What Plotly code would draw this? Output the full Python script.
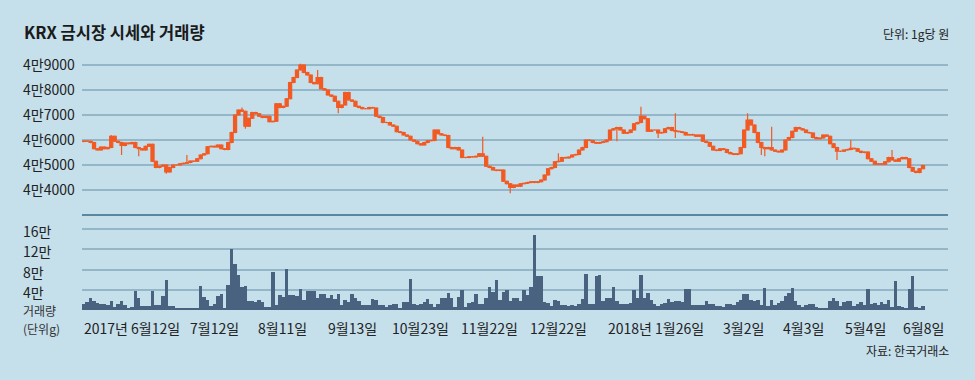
import plotly.graph_objects as go

# ---------------- data ----------------
open_ = [
    45940, 45960, 45950, 45900, 45650, 45600, 45720, 45650, 45700, 46150,
    45950, 45900, 45780, 45880, 45850, 45900, 45700, 45650, 45600, 45750,
    45830, 45150, 44900, 44950, 45000, 44720, 44900, 45000, 45000, 45050,
    45070, 45100, 45160, 45150, 45250, 45400, 45450, 45730, 45750, 45720,
    45800, 45650, 45620, 45900, 46300, 47000, 47200, 47150, 46550, 46870,
    47100, 47050, 46950, 46900, 46950, 46730, 46750, 47450, 47300, 47350,
    47650, 48300, 48500, 48800, 49000, 48700, 48600, 48300, 48250, 48500,
    48050, 48000, 47800, 47750, 47550, 47300, 47400, 47900, 47600, 47550,
    47350, 47300, 47250, 47250, 47300, 47280, 46950, 46900, 46700, 46700,
    46600, 46550, 46330, 46300, 46200, 46150, 46000, 45950, 45850, 45800,
    45900, 45970, 45980, 46400, 46250, 46200, 46180, 45700, 45650, 45700,
    45600, 45300, 45300, 45330, 45320, 45350, 45450, 45350, 44950, 44900,
    44800, 44780, 44800, 44350, 44250, 44100, 44200, 44150, 44250, 44270,
    44300, 44330, 44300, 44330, 44400, 44600, 44850, 44900, 45130, 45150,
    45300, 45280, 45320, 45400, 45420, 45600, 45700, 46000, 45980, 45900,
    45870, 45900, 45930, 46000, 46400, 46450, 46500, 46400, 46270, 46300,
    46400, 46650, 46700, 46950, 46850, 46350, 46400, 46400, 46280, 46300,
    46450, 46500, 46380, 46350, 46330, 46300, 46200, 46220, 46200, 46150,
    46200, 45950, 45900, 45750, 45600, 45580, 45650, 45620, 45500, 45450,
    45420, 45450, 45700, 46400, 46800, 46600, 46300, 45900, 45700, 45650,
    45700, 45600, 45550, 45520, 45600, 46000, 46100, 46350, 46500, 46450,
    46400, 46300, 46280, 46100, 46050, 46080, 46200, 46150, 45850, 45700,
    45550, 45550, 45600, 45620, 45670, 45650, 45550, 45500, 45520, 45250,
    45150, 45030, 45050, 45030, 45130, 45300, 45200, 45150, 45250, 45300,
    45250, 44900, 44750, 44700, 44850,
]
close = [
    45960, 45950, 45900, 45650, 45600, 45720, 45650, 45700, 46150, 45950,
    45900, 45780, 45880, 45850, 45900, 45700, 45650, 45600, 45750, 45830,
    45150, 44900, 44950, 45000, 44720, 44900, 45000, 45000, 45050, 45070,
    45100, 45160, 45150, 45250, 45400, 45450, 45730, 45750, 45720, 45800,
    45650, 45620, 45900, 46300, 47000, 47200, 47150, 46550, 46870, 47100,
    47050, 46950, 46900, 46950, 46730, 46750, 47450, 47300, 47350, 47650,
    48300, 48500, 48800, 49000, 48700, 48600, 48300, 48250, 48500, 48050,
    48000, 47800, 47750, 47550, 47300, 47400, 47900, 47600, 47550, 47350,
    47300, 47250, 47250, 47300, 47280, 46950, 46900, 46700, 46700, 46600,
    46550, 46330, 46300, 46200, 46150, 46000, 45950, 45850, 45800, 45900,
    45970, 45980, 46400, 46250, 46200, 46180, 45700, 45650, 45700, 45600,
    45300, 45300, 45330, 45320, 45350, 45450, 45350, 44950, 44900, 44800,
    44780, 44800, 44350, 44250, 44100, 44200, 44150, 44250, 44270, 44300,
    44330, 44300, 44330, 44400, 44600, 44850, 44900, 45130, 45150, 45300,
    45280, 45320, 45400, 45420, 45600, 45700, 46000, 45980, 45900, 45870,
    45900, 45930, 46000, 46400, 46450, 46500, 46400, 46270, 46300, 46400,
    46650, 46700, 46950, 46850, 46350, 46400, 46400, 46280, 46300, 46450,
    46500, 46380, 46350, 46330, 46300, 46200, 46220, 46200, 46150, 46200,
    45950, 45900, 45750, 45600, 45580, 45650, 45620, 45500, 45450, 45420,
    45450, 45700, 46400, 46800, 46600, 46300, 45900, 45700, 45650, 45700,
    45600, 45550, 45520, 45600, 46000, 46100, 46350, 46500, 46450, 46400,
    46300, 46280, 46100, 46050, 46080, 46200, 46150, 45850, 45700, 45550,
    45550, 45600, 45620, 45670, 45650, 45550, 45500, 45520, 45250, 45150,
    45030, 45050, 45030, 45130, 45300, 45200, 45150, 45250, 45300, 45250,
    44900, 44750, 44700, 44850, 44980,
]
high = [
    45990, 45990, 45980, 45930, 45680, 45750, 45750, 45730, 46200, 46180,
    45980, 45930, 45910, 45910, 45930, 45930, 45730, 45680, 45780, 45860,
    45860, 45180, 44980, 45030, 45030, 44930, 45030, 45030, 45080, 45100,
    45400, 45190, 45190, 45280, 45430, 45480, 45760, 45780, 45780, 45830,
    45830, 45680, 45930, 46330, 47030, 47230, 47300, 47180, 46900, 47130,
    47130, 47080, 46980, 46980, 46980, 46780, 47480, 47480, 47380, 47680,
    48330, 48530, 48830, 49050, 49030, 48730, 48630, 48330, 48800, 48530,
    48080, 48030, 47830, 47780, 47580, 47430, 47930, 47930, 47630, 47580,
    47380, 47330, 47280, 47330, 47330, 47310, 46980, 46930, 46730, 46730,
    46630, 46580, 46360, 46330, 46230, 46180, 46030, 45980, 45880, 45930,
    46000, 46010, 46430, 46430, 46280, 46230, 46210, 45730, 45730, 45730,
    45630, 45330, 45360, 45360, 45380, 45480, 46130, 45380, 44980, 44930,
    44830, 44830, 44830, 44380, 44280, 44230, 44230, 44280, 44300, 44330,
    44360, 44360, 44360, 44430, 44630, 44880, 44930, 45160, 45470, 45330,
    45330, 45350, 45430, 45450, 45630, 45730, 46030, 46030, 46010, 45930,
    45930, 45960, 46030, 46430, 46480, 46530, 46530, 46430, 46330, 46430,
    46680, 46730, 47330, 46980, 46880, 46430, 46430, 46430, 46330, 46480,
    46530, 46530, 47070, 46380, 46360, 46330, 46250, 46250, 46230, 46230,
    46230, 45980, 45930, 45780, 45630, 45680, 45680, 45650, 45530, 45480,
    45480, 45730, 46430, 47070, 46830, 46630, 46330, 45930, 45730, 45730,
    46530, 45630, 45580, 45630, 46030, 46130, 46380, 46530, 46530, 46480,
    46430, 46330, 46310, 46130, 46110, 46230, 46230, 46180, 45880, 45730,
    45580, 45630, 45650, 46000, 45700, 45680, 45580, 45550, 45550, 45280,
    45180, 45080, 45080, 45160, 45330, 45600, 45230, 45280, 45330, 45330,
    45280, 44930, 44780, 44880, 45010,
]
low = [
    45910, 45920, 45870, 45620, 45570, 45570, 45620, 45620, 45670, 45920,
    45870, 45400, 45750, 45820, 45820, 45670, 45350, 45570, 45570, 45720,
    45120, 44870, 44870, 44920, 44650, 44690, 44870, 44970, 44970, 45020,
    45040, 45070, 45120, 45120, 45220, 45370, 45420, 45700, 45690, 45690,
    45620, 45590, 45590, 45870, 46270, 46970, 47120, 46450, 46520, 46840,
    47020, 46920, 46870, 46870, 46700, 46700, 46720, 47270, 47270, 47320,
    47620, 48270, 48470, 48770, 48670, 48570, 48270, 48220, 48220, 48020,
    47970, 47770, 47720, 47520, 47070, 47270, 47370, 47570, 47520, 47320,
    47270, 47220, 47220, 47220, 47250, 46920, 46870, 46670, 46670, 46570,
    46520, 46300, 46270, 46170, 46120, 45970, 45920, 45820, 45770, 45770,
    45870, 45940, 45950, 46220, 46170, 46150, 45670, 45620, 45620, 45570,
    45270, 45270, 45270, 45290, 45290, 45320, 45320, 44920, 44870, 44770,
    44750, 44750, 44320, 44220, 43870, 44070, 44120, 44120, 44220, 44240,
    44270, 44270, 44270, 44300, 44370, 44570, 44820, 44870, 45100, 45120,
    45250, 45250, 45290, 45370, 45390, 45570, 45670, 45950, 45870, 45840,
    45840, 45870, 45900, 45970, 46370, 45950, 46370, 46240, 46240, 46270,
    46370, 46620, 46670, 46820, 46320, 46320, 46370, 46080, 46250, 46270,
    46420, 46350, 46080, 46300, 46270, 46170, 46170, 46170, 46120, 46120,
    45920, 45870, 45720, 45570, 45550, 45550, 45590, 45470, 45420, 45390,
    45390, 45420, 45670, 46370, 46570, 46270, 45870, 45400, 45350, 45620,
    45570, 45520, 45490, 45490, 45570, 45970, 46070, 46320, 46420, 46370,
    46270, 46250, 46070, 46020, 46020, 46050, 46120, 45820, 45670, 45200,
    45520, 45520, 45570, 45590, 45620, 45520, 45470, 45470, 45220, 45120,
    45000, 45000, 45000, 45000, 45100, 45170, 45120, 45120, 45220, 45220,
    44870, 44720, 44670, 44670, 44820,
]
volume = [
    12500, 15800, 24500, 17000, 13800, 11800, 11000, 10500, 17000, 6000,
    11000, 17000, 9000, 2700, 6000, 37300, 23200, 7300, 7300, 7300,
    37300, 9000, 10500, 27100, 59000, 8500, 7300, 4600, 2700, 4600,
    3300, 3300, 3300, 4600, 47800, 25800, 19200, 7300, 11000, 27800,
    31100, 2000, 49100, 120800, 90300, 69000, 44500, 47800, 17900, 17900,
    15200, 20500, 15800, 6000, 6000, 74300, 10500, 29100, 25800, 81700,
    29100, 29100, 27800, 42400, 20500, 38000, 38000, 38000, 24500, 32400,
    32400, 24500, 29100, 22400, 31100, 10600, 19200, 15200, 31100, 24500,
    17900, 10600, 10600, 10600, 22400, 19200, 10600, 10600, 6000, 10600,
    12600, 12600, 4600, 15200, 15200, 61100, 12000, 9300, 12500, 15100,
    22400, 12500, 5900, 12500, 23800, 23800, 34500, 24400, 5900, 25800,
    40400, 5900, 13800, 15100, 31100, 12500, 12500, 23000, 44500, 35500,
    58400, 19800, 35800, 40200, 17800, 24400, 24400, 17800, 38800, 29100,
    45600, 149000, 67700, 67700, 15900, 13800, 7300, 20600, 17800, 9200,
    9200, 7200, 9200, 7200, 12500, 22400, 70900, 12500, 12500, 66700,
    70000, 17800, 24400, 24400, 45100, 17800, 12500, 12500, 12500, 13800,
    38800, 24400, 70000, 24400, 33700, 19100, 12500, 7200, 12500, 13800,
    22400, 16000, 17100, 17100, 15100, 41000, 41000, 10500, 10500, 10500,
    10500, 17100, 12500, 12500, 8500, 8500, 5900, 12500, 12500, 10500,
    15100, 20400, 32400, 32400, 19100, 17800, 20400, 9200, 44300, 7200,
    19100, 9200, 13800, 17800, 27700, 33700, 44300, 17800, 10500, 5900,
    10500, 12500, 12500, 5900, 2500, 3900, 3900, 17100, 24400, 17800,
    8500, 15100, 17800, 17800, 7800, 12500, 15100, 10500, 41000, 12500,
    13800, 10500, 15100, 12500, 19100, 5900, 57500, 7200, 5900, 3900,
    42300, 67700, 5900, 3900, 7200,
]
day_index = list(range(len(close)))

price_ticks = [49000, 48000, 47000, 46000, 45000, 44000]
price_tick_labels = ["4만9000", "4만8000", "4만7000", "4만6000", "4만5000", "4만4000"]
volume_ticks = [160000, 120000, 80000, 40000]
volume_tick_labels = ["16만", "12만", "8만", "4만"]
date_tick_idx = [0, 37.9, 57.7, 78, 98, 118.1, 137.9, 166.4, 191.7, 209.4, 227.2, 244]
date_tick_labels = ["2017년 6월12일", "7월12일", "8월11일", "9월13일", "10월23일", "11월22일",
                    "12월22일", "2018년 1월26일", "3월2일", "4월3일", "5월4일", "6월8일"]

title_text = "KRX 금시장 시세와 거래량"
unit_text = "단위: 1g당 원"
vol_title = "거래량"
vol_unit = "(단위g)"
source_text = "자료: 한국거래소"

# ---------------- style ----------------
W, H = 975, 380
BG = "#c5dfeb"
ORANGE = "#f25a23"
BAR = "#48627f"
GRID = "#93b6c8"
SEP = "#5b88a0"
TXT = "#222222"
FONT = "Noto Sans CJK KR, Noto Sans, sans-serif"

def px_x(p):
    return p / W

def px_y(p):
    return 1 - p / H

x_left, x_right = 82, 948
price_top, price_bot = 55, 200
vol_top, vol_bot = 215, 310

# price axis: 25 px per 1000 won, 49000 at y=65
p_hi = 49000 + (65 - price_top) * 40
p_lo = 49000 - (price_bot - 65) * 40
# volume axis: 0 at y=310, 160000 at y=229
v_per_px = 160000 / (vol_bot - 229)
v_hi = (vol_bot - vol_top) * v_per_px

px_per_day = (923 - x_left) / 244.5
x_max = -0.5 + (x_right - x_left) / px_per_day

fig = go.Figure()
fig.add_trace(go.Candlestick(
    x=day_index, open=open_, high=high, low=low, close=close,
    increasing=dict(line=dict(color=ORANGE, width=1.2), fillcolor=ORANGE),
    decreasing=dict(line=dict(color=ORANGE, width=1.2), fillcolor=ORANGE),
    whiskerwidth=0, xaxis="x", yaxis="y", showlegend=False, hoverinfo="skip",
))
fig.add_trace(go.Bar(
    x=day_index, y=volume, marker=dict(color=BAR, line=dict(width=0)),
    xaxis="x", yaxis="y2", showlegend=False, hoverinfo="skip",
))

annotations = []
annotations.append(dict(text=f"<b>{title_text}</b>", x=px_x(22), y=px_y(32), xref="paper", yref="paper",
                        xanchor="left", yanchor="middle", showarrow=False,
                        font=dict(family=FONT, size=16.5, color="#1a1a1a")))
annotations.append(dict(text=unit_text, x=px_x(951), y=px_y(33), xref="paper", yref="paper",
                        xanchor="right", yanchor="middle", showarrow=False,
                        font=dict(family=FONT, size=12, color=TXT)))
for v, t in zip(price_ticks, price_tick_labels):
    annotations.append(dict(text=t, x=px_x(21), y=v, xref="paper", yref="y", yshift=1,
                            xanchor="left", yanchor="middle", showarrow=False,
                            font=dict(family=FONT, size=14, color=TXT)))
for v, t in zip(volume_ticks, volume_tick_labels):
    annotations.append(dict(text=t, x=px_x(21), y=v, xref="paper", yref="y2", yshift=-2,
                            xanchor="left", yanchor="middle", showarrow=False,
                            font=dict(family=FONT, size=14, color=TXT)))
annotations.append(dict(text=vol_title, x=px_x(21), y=px_y(310), xref="paper", yref="paper",
                        xanchor="left", yanchor="middle", showarrow=False,
                        font=dict(family=FONT, size=12, color="#333333")))
annotations.append(dict(text=vol_unit, x=px_x(21), y=px_y(328), xref="paper", yref="paper",
                        xanchor="left", yanchor="middle", showarrow=False,
                        font=dict(family=FONT, size=12, color="#333333")))
for i, (xi, t) in enumerate(zip(date_tick_idx, date_tick_labels)):
    anchor = "center"
    xs = 0
    if i == 0:
        anchor = "left"
        xs = -2
    annotations.append(dict(text=t, x=xi, y=px_y(328), xref="x", yref="paper", xshift=xs,
                            xanchor=anchor, yanchor="middle", showarrow=False,
                            font=dict(family=FONT, size=14, color=TXT)))
annotations.append(dict(text=source_text, x=px_x(951), y=px_y(350), xref="paper", yref="paper",
                        xanchor="right", yanchor="middle", showarrow=False,
                        font=dict(family=FONT, size=12, color=TXT)))

fig.update_layout(
    width=W, height=H,
    margin=dict(l=0, r=0, t=0, b=0),
    paper_bgcolor=BG, plot_bgcolor=BG,
    bargap=0, boxgap=0.1, boxgroupgap=0,
    xaxis=dict(domain=[px_x(x_left), px_x(x_right)], range=[-0.5, x_max],
               showgrid=False, zeroline=False, showticklabels=False, ticks="",
               rangeslider=dict(visible=False), fixedrange=True, anchor="y2"),
    yaxis=dict(domain=[px_y(price_bot), px_y(price_top)], range=[p_lo, p_hi],
               tickvals=price_ticks, showticklabels=False, ticks="", fixedrange=True,
               showgrid=True, gridcolor=GRID, gridwidth=2, zeroline=False, anchor="x"),
    yaxis2=dict(domain=[px_y(vol_bot), px_y(vol_top)], range=[0, v_hi],
                tickvals=[0] + volume_ticks, showticklabels=False, ticks="", fixedrange=True,
                showgrid=True, gridcolor=GRID, gridwidth=2, zeroline=False, anchor="x"),
    shapes=[dict(type="line", xref="paper", yref="paper",
                 x0=px_x(x_left), x1=px_x(x_right), y0=px_y(vol_top), y1=px_y(vol_top),
                 line=dict(color=SEP, width=2))],
    annotations=annotations,
    showlegend=False,
)

page_js = ("document.body.style.margin='0';document.body.style.padding='0';"
           "document.body.style.background='" + BG + "';"
           "document.documentElement.style.overflow='hidden';")
fig.write_html("out.html", post_script=page_js, config={"displayModeBar": False})
